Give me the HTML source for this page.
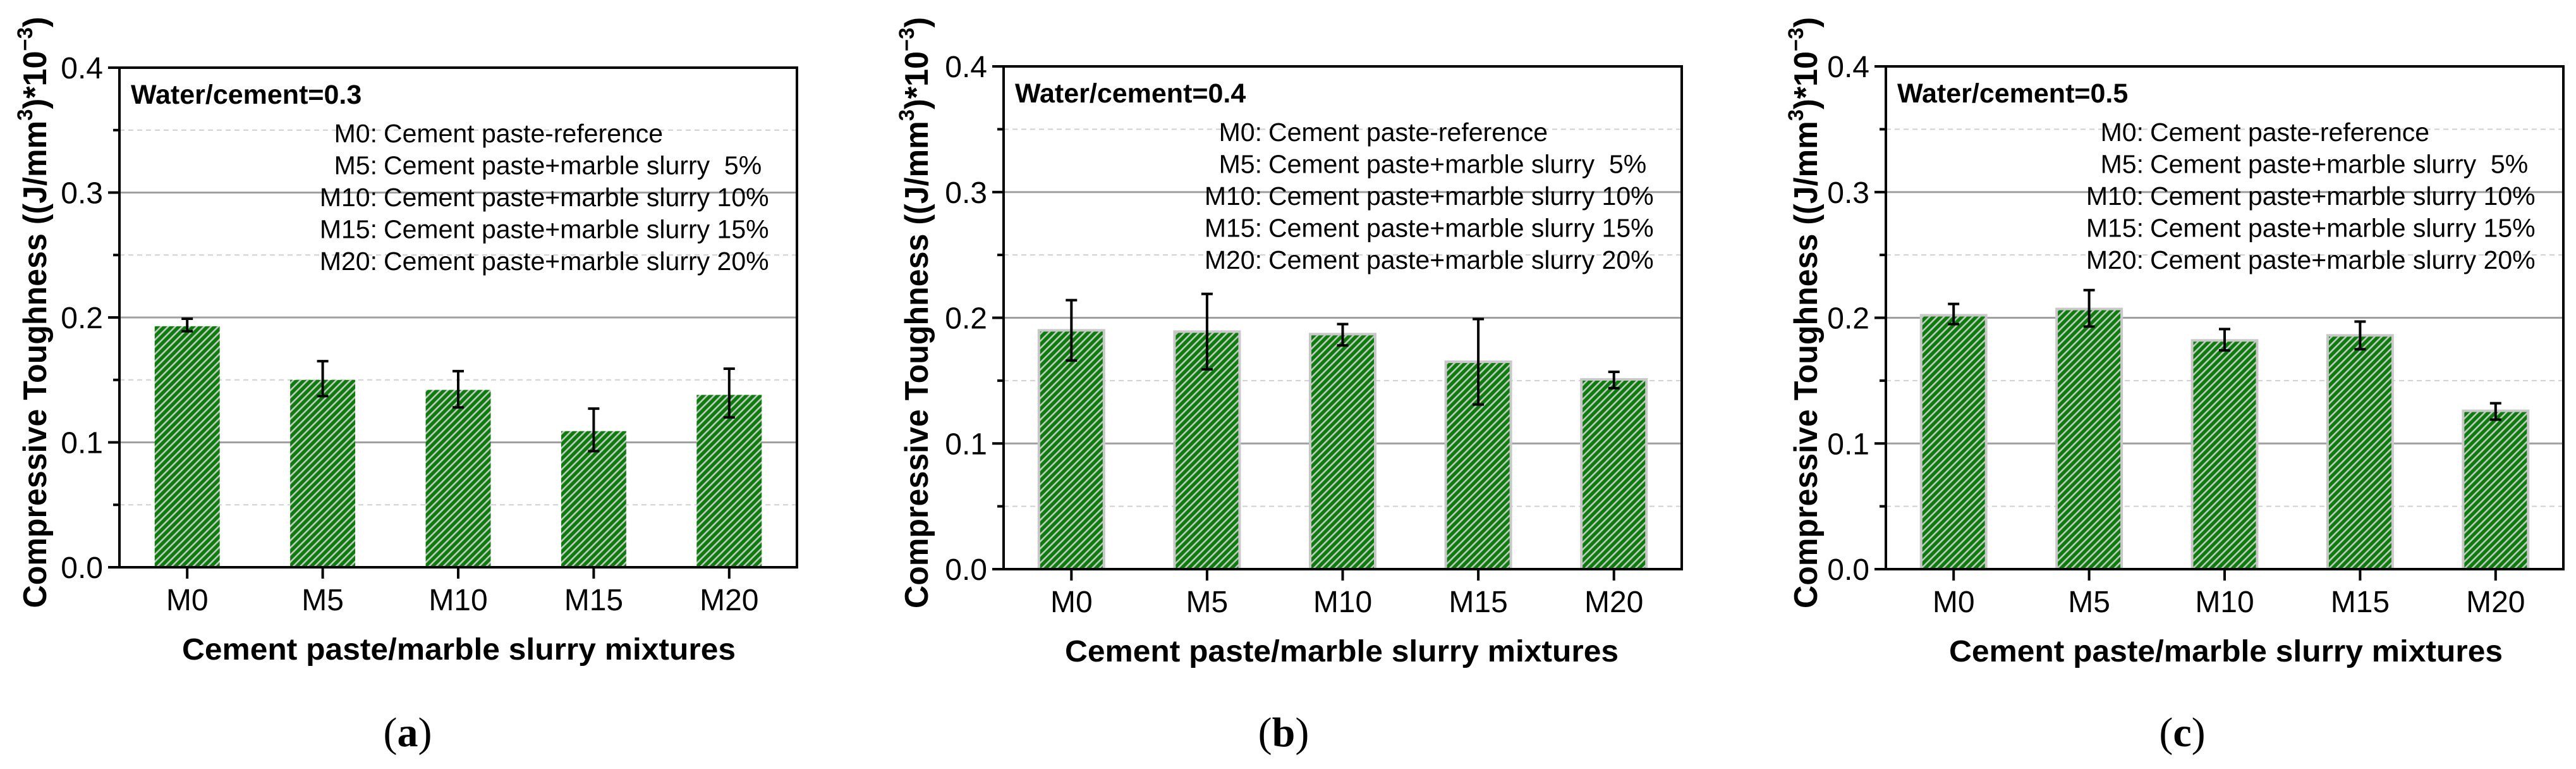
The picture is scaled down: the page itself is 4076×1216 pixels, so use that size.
<!DOCTYPE html>
<html><head><meta charset="utf-8">
<style>
html,body{margin:0;padding:0;background:#fff;}
svg{display:block;font-family:"Liberation Sans",sans-serif;}
text{white-space:pre;}
</style></head>
<body>
<svg id="fig" width="4076" height="1216" viewBox="0 0 4076 1216" xmlns="http://www.w3.org/2000/svg">
<defs>
<pattern id="hatch" patternUnits="userSpaceOnUse" width="8" height="8" patternTransform="rotate(45)">
<rect width="8" height="8" fill="#0a7d0a"/>
<rect x="0" y="0" width="2.6" height="8" fill="#c8c8c8"/>
</pattern>
</defs>
</svg>
<script>
const categories = ["M0","M5","M10","M15","M20"];
const yTicks = ["0.0","0.1","0.2","0.3","0.4"];
const legendKeys = ["M0","M5","M10","M15","M20"];
const legendText = ["Cement paste-reference","Cement paste+marble slurry  5%","Cement paste+marble slurry 10%","Cement paste+marble slurry 15%","Cement paste+marble slurry 20%"];
const valuesA = [0.193,0.150,0.142,0.109,0.138];
const errHiA = [0.199,0.165,0.157,0.127,0.159];
const errLoA = [0.189,0.137,0.128,0.093,0.120];
const valuesB = [0.190,0.189,0.187,0.165,0.151];
const errHiB = [0.214,0.219,0.195,0.199,0.157];
const errLoB = [0.166,0.159,0.178,0.131,0.144];
const valuesC = [0.202,0.207,0.182,0.186,0.126];
const errHiC = [0.211,0.222,0.191,0.197,0.132];
const errLoC = [0.195,0.193,0.174,0.175,0.119];

const NS="http://www.w3.org/2000/svg";
const svg=document.getElementById('fig');
function mk(tag,attrs,parent,text){const e=document.createElementNS(NS,tag);for(const k in attrs)e.setAttribute(k,attrs[k]);if(text!==undefined)e.textContent=text;(parent||svg).appendChild(e);return e;}

const panels=[
 {id:'a',x0:189,x1:1261,y0:897,y1:107,vals:valuesA,hi:errHiA,lo:errLoA,wc:"Water/cement=0.3",border:false,ytx:55,xtc:726,lab:645},
 {id:'b',x0:1588,x1:2661,y0:900,y1:105,vals:valuesB,hi:errHiB,lo:errLoB,wc:"Water/cement=0.4",border:true,ytx:1450,xtc:2123,lab:2031},
 {id:'c',x0:2984,x1:4056,y0:900,y1:105,vals:valuesC,hi:errHiC,lo:errLoC,wc:"Water/cement=0.5",border:true,ytx:2857,xtc:3522,lab:3453}
];

panels.forEach(p=>{
 const g=mk('g',{});
 
 
 const ys=v=>p.y0+(p.y1-p.y0)*(v/0.4);
 const bw=(p.x1-p.x0)/categories.length;
 const xs=i=>p.x0+bw*(i+0.5);
 for(let k=1;k<8;k++){
  const v=k*0.05,y=ys(v);
  const l=mk('line',{x1:p.x0,x2:p.x1,y1:y,y2:y,stroke:k%2?'#d0d0d0':'#a0a0a0','stroke-width':k%2?2:3,'stroke-dasharray':k%2?'8 6':'none'},g);
  
  
 }
 p.vals.forEach((v,i)=>{
  const w=bw*0.48;
  const r=mk('rect',{x:xs(i)-w/2,y:ys(v),width:w,height:ys(0)-ys(v),fill:'url(#hatch)',stroke:p.border?'#c8c8c8':'none','stroke-width':p.border?4:0},g);
  
  
  const eg=mk('g',{stroke:'#000','stroke-width':4},g);
  
  
  mk('line',{x1:xs(i),x2:xs(i),y1:ys(p.hi[i]),y2:ys(p.lo[i])},eg);
  mk('line',{x1:xs(i)-9,x2:xs(i)+9,y1:ys(p.hi[i]),y2:ys(p.hi[i])},eg);
  mk('line',{x1:xs(i)-9,x2:xs(i)+9,y1:ys(p.lo[i]),y2:ys(p.lo[i])},eg);
 });
 const fr=mk('rect',{x:p.x0,y:p.y1,width:p.x1-p.x0,height:p.y0-p.y1,fill:'none',stroke:'#000','stroke-width':4},g);
 
 
 for(let k=0;k<=8;k++){
  const y=ys(k*0.05);
  const t=mk('line',{x1:p.x0-(k%2?10:18),x2:p.x0,y1:y,y2:y,stroke:'#000','stroke-width':4},g);
  
  
 }
 yTicks.forEach((s,k)=>{
  const t=mk('text',{x:p.x0-26,y:ys(k*0.1)+17,'font-size':48,'text-anchor':'end',fill:'#000'},g,s);
  
  
 });
 categories.forEach((c,i)=>{
  const t=mk('line',{x1:xs(i),x2:xs(i),y1:p.y0,y2:p.y0+18,stroke:'#000','stroke-width':4},g);
  
  
  const l=mk('text',{x:xs(i),y:p.y0+68,'font-size':48,'text-anchor':'middle',fill:'#000'},g,c);
  
  
 });
 const wc=mk('text',{x:p.x0+18,y:p.y1+57,'font-size':43,'font-weight':'bold',fill:'#000'},g,p.wc);
 
 
 const colonX=p.x1-664;
 legendKeys.forEach((k,i)=>{
  const y=p.y1+118+i*50.5;
  const t1=mk('text',{x:colonX,y:y,'font-size':41,'text-anchor':'end',fill:'#000'},g,k+':');
  
  
  const t2=mk('text',{x:colonX+10,y:y,'font-size':41,fill:'#000'},g,legendText[i]);
  
  
 });
 const yt=mk('text',{x:0,y:0,'font-size':52,'font-weight':'bold','text-anchor':'middle',fill:'#000',textLength:935,lengthAdjust:'spacingAndGlyphs',transform:`translate(${p.ytx+18},${(p.y0+p.y1)/2-8}) rotate(-90)`},g);
 
 
 mk('tspan',{},yt,'Compressive Toughness ((J/mm');
 mk('tspan',{dy:-22,'font-size':34},yt,'3');
 mk('tspan',{dy:22},yt,')*10');
 mk('tspan',{dy:-22,'font-size':34},yt,'\u22123');
 mk('tspan',{dy:22},yt,')');
 const xt=mk('text',{x:p.xtc,y:p.y0+146,'font-size':48,'font-weight':'bold','text-anchor':'middle',fill:'#000',textLength:876,lengthAdjust:'spacingAndGlyphs'},g,'Cement paste/marble slurry mixtures');
 
 
 const pl=mk('text',{x:p.lab,y:1180,'font-size':66,'text-anchor':'middle',fill:'#000','font-family':'Liberation Serif, serif'},g);
 
 
 mk('tspan',{},pl,'(');
 mk('tspan',{'font-weight':'bold'},pl,p.id);
 mk('tspan',{},pl,')');
});
</script>
</body></html>
